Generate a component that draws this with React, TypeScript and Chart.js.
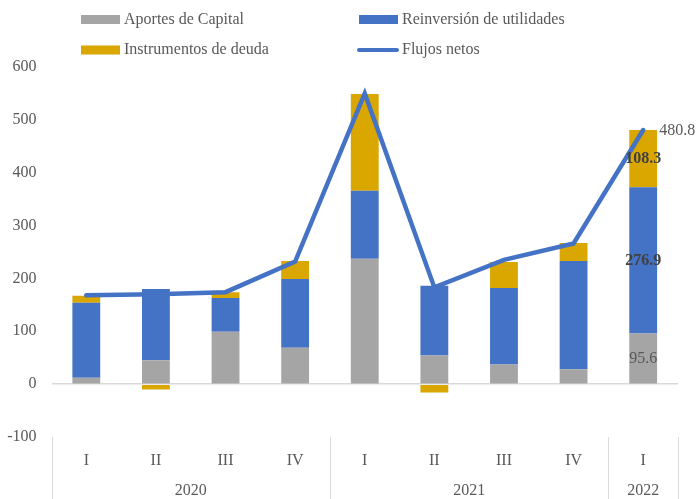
import React, { useEffect, useRef } from "react";
import { Chart, registerables } from "chart.js";

Chart.register(...registerables);

const quarters = ["I", "II", "III", "IV", "I", "II", "III", "IV", "I"];
const years = ["2020", "2020", "2020", "2020", "2021", "2021", "2021", "2021", "2022"];
const aportes = [12, 45, 99, 69, 237, 54, 37, 28, 95.6];
const reinversion = [142, 135, 64, 130, 129, 132, 145, 205, 276.9];
const instrumentos = [13, -10, 11, 34, 183, -16, 49, 34, 108.3];
const flujos = [168, 170, 174, 232, 550, 183, 235, 266, 480.8];
const yTicks = [-100, 0, 100, 200, 300, 400, 500, 600];

const FONT = "'Liberation Serif', 'Times New Roman', serif";
const TXT = "#595959";
const GRAY = "#A5A5A5";
const BLUE = "#4472C4";
const GOLD = "#DAA600";
const SEP = "#D9D9D9";

const customPlugin = {
  id: "custom",
  afterDraw(chart: any) {
    const ctx = chart.ctx;
    const ca = chart.chartArea;
    const xs = chart.scales.x;
    ctx.save();
    // legend
    ctx.font = `16px ${FONT}`;
    ctx.fillStyle = TXT;
    ctx.textBaseline = "middle";
    ctx.textAlign = "left";
    const items = [
      { label: "Aportes de Capital", color: GRAY, x: 81, y: 19.5, line: false },
      { label: "Reinversión de utilidades", color: BLUE, x: 359, y: 19.5, line: false },
      { label: "Instrumentos de deuda", color: GOLD, x: 81, y: 50, line: false },
      { label: "Flujos netos", color: BLUE, x: 359, y: 50, line: true },
    ];
    for (const it of items) {
      if (it.line) {
        ctx.strokeStyle = it.color;
        ctx.lineWidth = 4;
        ctx.lineCap = "round";
        ctx.beginPath();
        ctx.moveTo(it.x, it.y);
        ctx.lineTo(it.x + 38, it.y);
        ctx.stroke();
      } else {
        ctx.fillStyle = it.color;
        ctx.fillRect(it.x, it.y - 4.5, 39, 9);
      }
      ctx.fillStyle = TXT;
      ctx.fillText(it.label, it.x + 43, it.y);
    }
    // separators and year labels
    const n = quarters.length;
    const bounds: number[] = [ca.left];
    const groups: { label: string; start: number; end: number }[] = [];
    let start = 0;
    for (let i = 1; i <= n; i++) {
      if (i === n || years[i] !== years[i - 1]) {
        groups.push({ label: years[i - 1], start, end: i - 1 });
        start = i;
      }
    }
    const half = (xs.getPixelForValue(1) - xs.getPixelForValue(0)) / 2;
    ctx.strokeStyle = SEP;
    ctx.lineWidth = 1;
    ctx.lineCap = "butt";
    for (const g of groups) {
      const l = xs.getPixelForValue(g.start) - half;
      const r = xs.getPixelForValue(g.end) + half;
      bounds.push(r);
      ctx.fillStyle = TXT;
      ctx.textAlign = "center";
      ctx.fillText(g.label, (l + r) / 2, 490.5);
    }
    for (const b of bounds) {
      ctx.beginPath();
      ctx.moveTo(Math.round(b) + 0.5, ca.bottom);
      ctx.lineTo(Math.round(b) + 0.5, 499);
      ctx.stroke();
    }
    // data labels for last category
    const last = n - 1;
    const segs = [
      { ds: 1, bold: false, color: TXT, data: aportes },
      { ds: 2, bold: true, color: "#404040", data: reinversion },
      { ds: 3, bold: true, color: "#404040", data: instrumentos },
    ];
    ctx.textAlign = "center";
    for (const s of segs) {
      const el = chart.getDatasetMeta(s.ds).data[last];
      const cy = (el.y + el.base) / 2;
      ctx.font = `${s.bold ? "bold " : ""}16px ${FONT}`;
      ctx.fillStyle = s.color;
      ctx.fillText(String(s.data[last]), el.x, cy);
    }
    const pt = chart.getDatasetMeta(0).data[last];
    ctx.font = `16px ${FONT}`;
    ctx.fillStyle = TXT;
    ctx.textAlign = "left";
    ctx.fillText(String(flujos[last]), pt.x + 16, pt.y + 1);
    ctx.restore();
  },
};

export default function App() {
  const ref = useRef<HTMLCanvasElement | null>(null);
  useEffect(() => {
    if (!ref.current) return;
    const chart = new Chart(ref.current, {
      type: "bar",
      data: {
        labels: quarters,
        datasets: [
          {
            type: "line",
            label: "Flujos netos",
            data: flujos,
            borderColor: BLUE,
            backgroundColor: BLUE,
            borderWidth: 4.5,
            pointRadius: 0,
            tension: 0,
            stack: "net",
            order: 0,
            borderCapStyle: "round",
          } as any,
          { label: "Aportes de Capital", data: aportes, backgroundColor: GRAY, stack: "bars", order: 1, categoryPercentage: 1, barPercentage: 0.4 },
          { label: "Reinversión de utilidades", data: reinversion, backgroundColor: BLUE, stack: "bars", order: 1, categoryPercentage: 1, barPercentage: 0.4 },
          { label: "Instrumentos de deuda", data: instrumentos, backgroundColor: GOLD, stack: "bars", order: 1, categoryPercentage: 1, barPercentage: 0.4 },
        ],
      },
      options: {
        responsive: false,
        animation: false,
        devicePixelRatio: 1,
        layout: { padding: { top: 67, right: 22, bottom: 0, left: 0 } },
        plugins: { legend: { display: false }, tooltip: { enabled: false } },
        scales: {
          x: {
            stacked: true,
            grid: { display: false },
            border: { display: false },
            ticks: { color: TXT, font: { family: FONT, size: 16 }, padding: 6 },
            afterFit: (s: any) => { s.height = 62; },
          },
          y: {
            stacked: true,
            min: yTicks[0],
            max: yTicks[yTicks.length - 1],
            afterBuildTicks: (s: any) => { s.ticks = yTicks.map((v) => ({ value: v })); },
            grid: {
              drawTicks: false,
              color: (c: any) => (c.tick && c.tick.value === 0 ? SEP : "rgba(0,0,0,0)"),
              lineWidth: 1.5,
            },
            border: { display: false },
            ticks: { color: TXT, font: { family: FONT, size: 16 }, padding: 15 },
            afterFit: (s: any) => { s.width = 51.5; },
          },
        },
      },
      plugins: [customPlugin],
    });
    return () => chart.destroy();
  }, []);
  return (
    <div style={{ position: "absolute", left: 0, top: 0, width: 700, height: 499 }}>
      <canvas ref={ref} width={700} height={499} />
    </div>
  );
}
